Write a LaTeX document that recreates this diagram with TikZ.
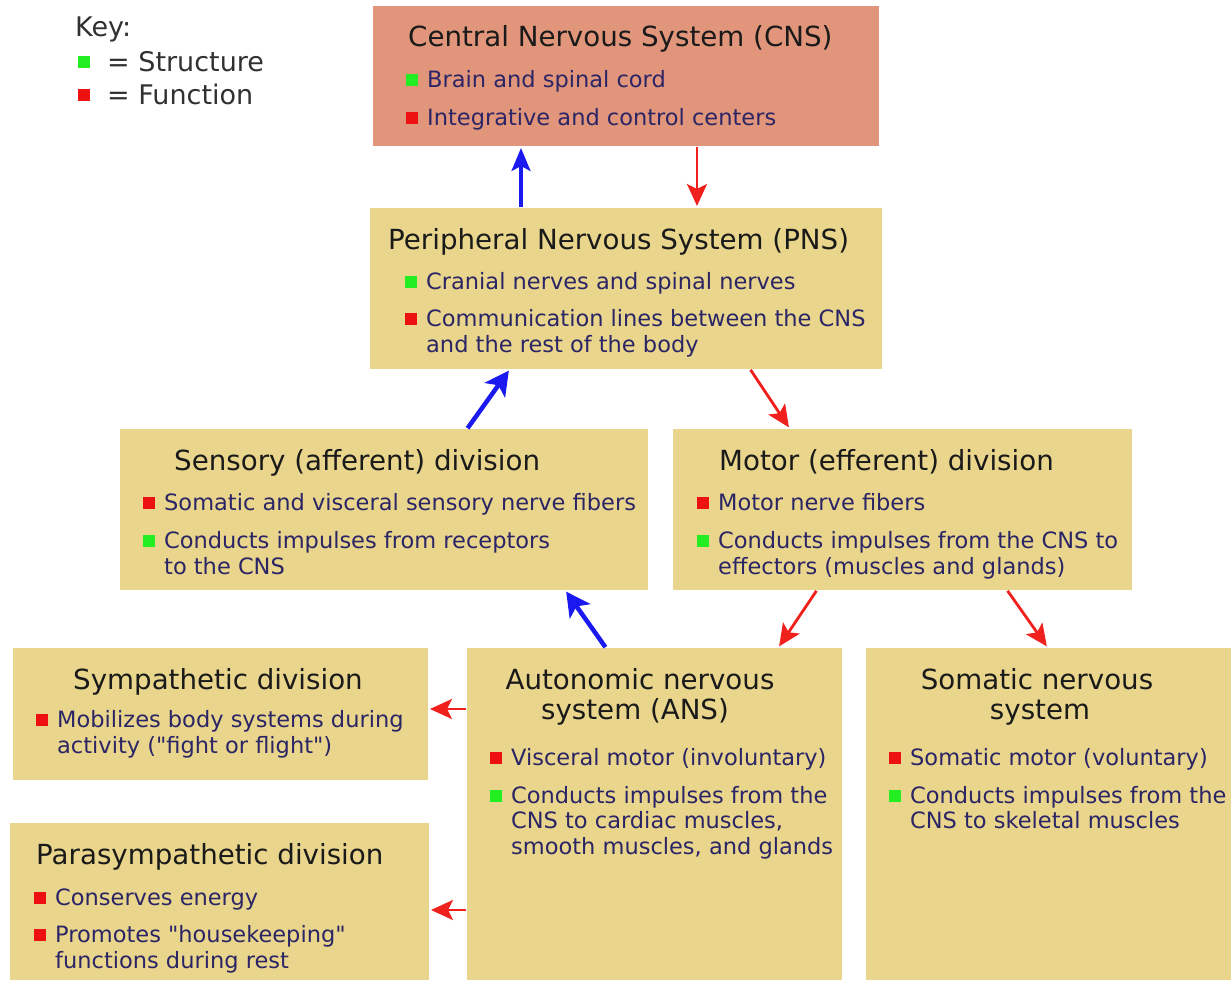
\documentclass[tikz,border=0pt]{standalone}
\usepackage{fontspec}
\setmainfont{DejaVu Sans}
\usetikzlibrary{arrows.meta}
\definecolor{khaki}{HTML}{E9D68C}
\definecolor{salmon}{HTML}{E1957A}
\definecolor{navy}{HTML}{2B2566}
\definecolor{ttl}{HTML}{1A1A1A}
\definecolor{sqgreen}{HTML}{22EE22}
\definecolor{sqred}{HTML}{EE1111}
\definecolor{arblue}{HTML}{1A1AF0}
\definecolor{arred}{HTML}{F0201C}
\tikzset{
 box/.style={anchor=north west, inner sep=0pt, outer sep=0pt, fill=khaki, draw=none},
 ttext/.style={font=\fontsize{27.7}{30}\selectfont, text=ttl, inner sep=0pt, anchor=base west},
 ctext/.style={font=\fontsize{27.7}{30}\selectfont, text=ttl, inner sep=0pt, anchor=base},
 btext/.style={font=\fontsize{22.5}{26}\selectfont, text=navy, inner sep=0pt, anchor=base west},
 keytext/.style={font=\fontsize{27}{30}\selectfont, text=ttl!90!white, inner sep=0pt, anchor=base west},
 bluearr/.style={draw=arblue, line width=4.5pt, -{Stealth[length=24pt,width=25pt,inset=6pt]}, shorten >=2pt, shorten <=1pt},
 bluevert/.style={draw=arblue, line width=3.2pt, -{Stealth[length=23pt,width=19pt,inset=5pt]}, shorten >=2pt, shorten <=1pt},
 redarr/.style={draw=arred, line width=2.8pt, -{Stealth[length=22pt,width=20pt,inset=5pt]}, shorten >=2pt, shorten <=1pt},
}
% square bullet + first line: name, colour, text x, baseline y, text
\newcommand\bitem[5]{%
 \fill[#2] ({#3-21},{#4-1}) rectangle ++(12,-12);
 \node[btext] (#1) at (#3,#4) {#5};}
\begin{document}
\begin{tikzpicture}[x=1pt,y=-1pt]
\useasboundingbox (0,0) rectangle (1231,982);
% key
\node[keytext] (key) at (75,37) {Key:};
\fill[sqgreen] (78,68) rectangle ++(12,-12);
\node[keytext] (keyS) at (107,71) {= Structure};
\fill[sqred] (78,101) rectangle ++(12,-12);
\node[keytext] (keyF) at (107,104) {= Function};
% boxes
\node[box, fill=salmon, minimum width=506pt, minimum height=140pt] (cns) at (373,6) {};
\node[box, minimum width=512pt, minimum height=161pt] (pns) at (370,208) {};
\node[box, minimum width=528pt, minimum height=161pt] (sens) at (120,429) {};
\node[box, minimum width=459pt, minimum height=161pt] (mot) at (673,429) {};
\node[box, minimum width=415pt, minimum height=132pt] (symp) at (13,648) {};
\node[box, minimum width=375pt, minimum height=332pt] (ans) at (467,648) {};
\node[box, minimum width=365pt, minimum height=332pt] (som) at (866,648) {};
\node[box, minimum width=419pt, minimum height=157pt] (para) at (10,823) {};
% CNS
\node[ttext] (cnsT) at (408,47) {Central Nervous System (CNS)};
\bitem{cns1}{sqgreen}{427}{87}{Brain and spinal cord}
\bitem{cns2}{sqred}{427}{125}{Integrative and control centers}
% PNS
\node[ttext] (pnsT) at (388,249) {Peripheral Nervous System (PNS)};
\bitem{pns1}{sqgreen}{426}{289}{Cranial nerves and spinal nerves}
\bitem{pns2}{sqred}{426}{326}{Communication lines between the CNS}
\node[btext] (pns3) at (426,352) {and the rest of the body};
% Sensory
\node[ttext] (sensT) at (174,470) {Sensory (afferent) division};
\bitem{sens1}{sqred}{164}{510}{Somatic and visceral sensory nerve fibers}
\bitem{sens2}{sqgreen}{164}{548}{Conducts impulses from receptors}
\node[btext] (sens3) at (164,574) {to the CNS};
% Motor
\node[ttext] (motT) at (719,470) {Motor (efferent) division};
\bitem{mot1}{sqred}{718}{510}{Motor nerve fibers}
\bitem{mot2}{sqgreen}{718}{548}{Conducts impulses from the CNS to}
\node[btext] (mot3) at (718,574) {effectors (muscles and glands)};
% Sympathetic
\node[ttext] (sympT) at (73,689) {Sympathetic division};
\bitem{symp1}{sqred}{57}{727}{Mobilizes body systems during}
\node[btext] (symp2) at (57,753) {activity (\textquotedbl fight or flight\textquotedbl)};
% ANS
\node[ctext] (ansT1) at (640,689) {Autonomic nervous};
\node[ctext] (ansT2) at (635,719) {system (ANS)};
\bitem{ans1}{sqred}{511}{765}{Visceral motor (involuntary)}
\bitem{ans2}{sqgreen}{511}{803}{Conducts impulses from the}
\node[btext] (ans3) at (511,828) {CNS to cardiac muscles,};
\node[btext] (ans4) at (511,854) {smooth muscles, and glands};
% Somatic
\node[ctext] (somT1) at (1037,689) {Somatic nervous};
\node[ctext] (somT2) at (1040,719) {system};
\bitem{som1}{sqred}{910}{765}{Somatic motor (voluntary)}
\bitem{som2}{sqgreen}{910}{803}{Conducts impulses from the}
\node[btext] (som3) at (910,828) {CNS to skeletal muscles};
% Parasympathetic
\node[ttext] (paraT) at (36,864) {Parasympathetic division};
\bitem{para1}{sqred}{55}{905}{Conserves energy}
\bitem{para2}{sqred}{55}{942}{Promotes \textquotedbl housekeeping\textquotedbl}
\node[btext] (para3) at (55,968) {functions during rest};
% arrows
\draw[bluevert] (521,0 |- pns.north) -- (521,0 |- cns.south);
\draw[redarr] (697,0 |- cns.south) -- (697,0 |- pns.north);
\draw[bluearr] (467,0 |- sens.north) -- (510,0 |- pns.south);
\draw[redarr] (750,0 |- pns.south) -- (790,0 |- mot.north);
\draw[bluearr] (606,0 |- ans.north) -- (565,0 |- sens.south);
\draw[redarr] (817,0 |- mot.south) -- (778,0 |- ans.north);
\draw[redarr] (1007,0 |- mot.south) -- (1048,0 |- som.north);
\draw[redarr] (ans.west |- 0,709) -- (symp.east |- 0,709);
\draw[redarr] (ans.west |- 0,910) -- (para.east |- 0,910);
\end{tikzpicture}
\end{document}
